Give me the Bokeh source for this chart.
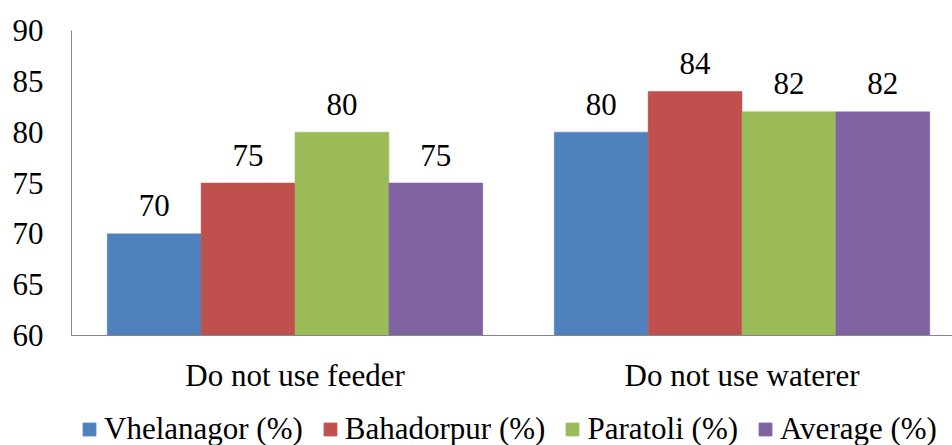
from bokeh.plotting import figure
from bokeh.layouts import column
from bokeh.models import ColumnDataSource, Range1d, FixedTicker, Legend, LegendItem
from bokeh.transform import dodge
from bokeh.core.properties import value
from bokeh.embed import file_html
from bokeh.resources import INLINE

categories = ["Do not use feeder", "Do not use waterer"]
series_names = ["Vhelanagor (%)", "Bahadorpur (%)", "Paratoli (%)", "Average (%)"]
vhelanagor = [70, 80]
bahadorpur = [75, 84]
paratoli = [80, 82]
average = [75, 82]
y_ticks = [60, 65, 70, 75, 80, 85, 90]

colors = ["#4F81BD", "#C0504D", "#9BBB59", "#8064A2"]
FONT = "Liberation Serif"
FS = "31px"

positions = [i + 1 for i in range(len(categories))]
src = ColumnDataSource(dict(
    x=positions,
    v0=vhelanagor, v1=bahadorpur, v2=paratoli, v3=average,
    t0=[str(v) for v in vhelanagor], t1=[str(v) for v in bahadorpur],
    t2=[str(v) for v in paratoli], t3=[str(v) for v in average],
))

p = figure(frame_width=881, frame_height=305, output_backend="svg", toolbar_location=None,
           x_range=Range1d(0.5, 0.5 + 881 / 447), y_range=Range1d(60, 90),
           min_border_left=71, min_border_right=0, min_border_top=30, min_border_bottom=60)
p.outline_line_color = None
p.grid.grid_line_color = None

bw = 0.21
offsets = [-1.5 * bw, -0.5 * bw, 0.5 * bw, 1.5 * bw]
for i in range(4):
    p.vbar(x=dodge("x", offsets[i], range=p.x_range), top=f"v{i}", bottom=60, width=bw,
           source=src, fill_color=colors[i], line_color=colors[i], line_width=0.5)
    p.text(x=dodge("x", offsets[i], range=p.x_range), y=f"v{i}", text=f"t{i}", source=src,
           text_font=value(FONT), text_font_size=FS, text_align="center",
           text_baseline="alphabetic", y_offset=-28, text_color="black")

p.yaxis.ticker = FixedTicker(ticks=y_ticks)
p.xaxis.ticker = FixedTicker(ticks=positions)
p.xaxis.major_label_overrides = {pos: c for pos, c in zip(positions, categories)}
for ax in (p.xaxis, p.yaxis):
    ax.axis_line_color = "#868686"
    ax.major_tick_line_color = None
    ax.minor_tick_line_color = None
    ax.major_tick_out = 0
    ax.major_tick_in = 0
    ax.major_label_text_font = FONT
    ax.major_label_text_font_size = FS
    ax.major_label_text_color = "black"
p.yaxis.major_label_standoff = 28
p.xaxis.major_label_standoff = 22

# legend strip: same series drawn outside its visible range, only their legend swatches show
pl = figure(width=952, height=50, output_backend="svg", toolbar_location=None,
            x_axis_type=None, y_axis_type=None,
            x_range=Range1d(100, 101), y_range=Range1d(100, 101),
            min_border_left=0, min_border_right=0, min_border_top=0, min_border_bottom=0)
pl.outline_line_color = None
pl.grid.grid_line_color = None
legend_renderers = [pl.vbar(x="x", top=f"v{i}", bottom=60, width=bw, source=src,
                            fill_color=colors[i], line_color=colors[i]) for i in range(4)]
legend = Legend(items=[LegendItem(label=n, renderers=[r]) for n, r in zip(series_names, legend_renderers)],
                orientation="horizontal", location=(10, -2),
                glyph_width=16, glyph_height=16, label_standoff=7, spacing=19,
                padding=0, margin=0, border_line_color=None, background_fill_alpha=0,
                label_text_font=FONT, label_text_font_size=FS, label_text_color="black")
pl.add_layout(legend, "center")

open("out.html", "w").write(file_html(column(p, pl, spacing=0), INLINE))
